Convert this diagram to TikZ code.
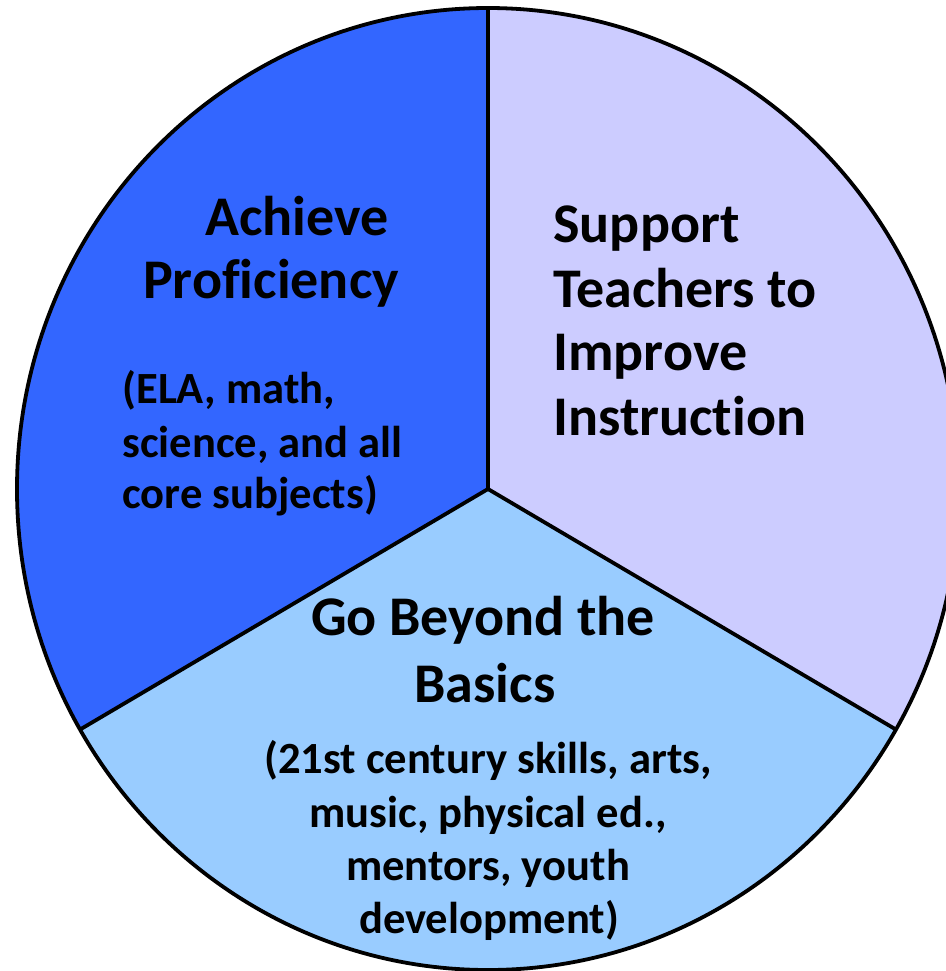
\documentclass[tikz,border=0pt]{standalone}
\usepackage{fontspec}
\setmainfont{Carlito}[Ligatures=NoCommon]
\definecolor{sliceA}{HTML}{3366FF}
\definecolor{sliceB}{HTML}{CCCCFF}
\definecolor{sliceC}{HTML}{99CCFF}
\tikzset{
  title/.style={inner sep=0pt, font=\fontsize{28}{33}\selectfont\bfseries},
  sub/.style={inner sep=0pt, font=\fontsize{22.3}{27}\selectfont\bfseries},
  edge/.style={line width=1.9pt, black, line join=round},
}
\begin{document}
\begin{tikzpicture}[x=0.5pt,y=-0.5pt]
\useasboundingbox (0,0) rectangle (946,971);
\coordinate (c) at (488,489);
\coordinate (top) at (488,8);
% slices
\fill[sliceA] (c) -- (top) arc[start angle=90, end angle=210, x radius=235.5pt, y radius=240.5pt] coordinate (ll) -- cycle;
\fill[sliceB] (c) -- (top) arc[start angle=90, end angle=-30, x radius=235.5pt, y radius=240.5pt] coordinate (lr) -- cycle;
\fill[sliceC] (c) -- (ll) arc[start angle=210, end angle=330, x radius=235.5pt, y radius=240.5pt] -- cycle;
% outlines
\draw[edge] (c) ellipse[x radius=235.5pt, y radius=240.5pt];
\draw[edge] (top) -- (c);
\draw[edge] (ll) -- (c) -- (lr);
% left slice text
\node[title, anchor=base] (a1) at (297,235) {Achieve};
\node[title, anchor=base] (a2) at (271,298) {Proficiency};
\node[sub, anchor=base west] (a3) at (122,403) {(ELA, math,};
\node[sub, anchor=base west] (a4) at (122,457) {science, and all};
\node[sub, anchor=base west] (a5) at (122,508) {core subjects)};
% right slice text
\node[title, anchor=base west] (b1) at (553,242) {Support};
\node[title, anchor=base west] (b2) at (553,307) {Teachers to};
\node[title, anchor=base west] (b3) at (553,370) {Improve};
\node[title, anchor=base west] (b4) at (553,435) {Instruction};
% bottom slice text
\node[title, anchor=base] (c1) at (483,635) {Go Beyond the};
\node[title, anchor=base] (c2) at (485,702) {Basics};
\node[sub, anchor=base] (c3) at (488,773) {(21st century skills, arts,};
\node[sub, anchor=base] (c4) at (488,827) {music, physical ed.,};
\node[sub, anchor=base] (c5) at (488,880) {mentors, youth};
\node[sub, anchor=base] (c6) at (489,933) {development)};
\end{tikzpicture}
\end{document}
